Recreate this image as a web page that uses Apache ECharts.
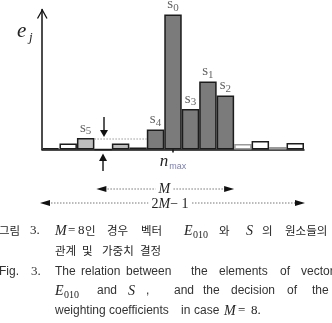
<!DOCTYPE html>
<html><head><meta charset="utf-8">
<script src="https://cdn.jsdelivr.net/npm/echarts@6/dist/echarts.min.js"></script>
<style>html,body{margin:0;padding:0;background:#fff}#c{width:332px;height:323px}</style>
</head><body><div id="c"></div>
<script>
// ---- data ----
const categories = ['', '', '', '', '', '', '', 'n_max', '', '', '', '', '', '', ''];
const values = [1.5, 6, 11.5, 0, 6, 2, 20, 135, 40.5, 68, 54, 5.5, 8.5, 2.5, 6.5];
const groups = ['out', 'out', 'side', 'out', 'side', 'out', 'main', 'main', 'main', 'main', 'main', 'faint', 'out', 'faint', 'out'];
const barLabels = ['', '', '5', '', '', '', '4', '0', '3', '1', '2', '', '', '', ''];
const M = 8;

const fills = { out: '#ffffff', faint: '#ffffff', side: '#bebebe', main: '#7b7b7b' };
const borders = { out: '#1c1c1c', faint: '#9a9a9a', side: '#1c1c1c', main: '#1c1c1c' };
const SERIF = '"Liberation Serif","DejaVu Serif",serif';
const SANS = '"Liberation Sans",Arial,sans-serif';
const KR = '"Noto Sans CJK KR",sans-serif';

const chart = echarts.init(document.getElementById('c'), null, { renderer: 'canvas' });
chart.setOption({
  animation: false,
  grid: { left: 42, right: 28, top: 9.5, bottom: 173.5, containLabel: false },
  xAxis: {
    type: 'category', data: categories,
    axisLine: { show: true, lineStyle: { color: '#111', width: 1.5 } },
    axisTick: { show: true, alignWithLabel: true, length: 3, interval: (i) => categories[i] !== '', lineStyle: { color: '#111', width: 1.5 } },
    axisLabel: {
      interval: 0, margin: 3,
      formatter: v => v ? '{n|n}{m|max}' : '',
      rich: {
        n: { fontFamily: SERIF, fontStyle: 'italic', fontSize: 17, color: '#222', padding: [0, 1, 0, 0] },
        m: { fontFamily: SANS, fontSize: 9, color: '#7d80b3', padding: [10, 0, 0, 0] }
      }
    },
    splitLine: { show: false }
  },
  yAxis: {
    type: 'value', min: 0, max: 140,
    axisLine: { show: true, lineStyle: { color: '#111', width: 1.5 } },
    axisTick: { show: false }, axisLabel: { show: false }, splitLine: { show: false }
  },
  series: [{
    type: 'bar', barCategoryGap: '0%', barGap: '0%',
    label: {
      position: 'top', distance: 1,
      rich: {
        s: { fontFamily: SERIF, fontSize: 15, color: '#666' },
        sub: { fontFamily: SERIF, fontSize: 11, color: '#666', padding: [7, 0, 0, 0] }
      }
    },
    data: values.map((v, i) => ({
      value: v,
      itemStyle: { color: fills[groups[i]], borderColor: borders[groups[i]], borderWidth: 1.5 },
      label: barLabels[i] ? { show: true, formatter: '{s|s}{sub|' + barLabels[i] + '}' } : { show: false }
    }))
  }]
});

// ---- annotations ----
const conv = (x, y) => chart.convertToPixel({ seriesIndex: 0 }, [x, y]);
const band = conv(1, 0)[0] - conv(0, 0)[0];
const leftEdge = i => conv(i, 0)[0] - band / 2;
const yS5 = conv(2, values[2])[1];
const gx = leftEdge(3) + band * 0.55;

function txt(x, y, text, font, fill, align) {
  return { type: 'text', x: x, y: y, silent: true, z: 100,
    style: { text: text, font: font, fill: fill || '#333', align: align || 'left', verticalAlign: 'middle' } };
}
function tri(pts, color) {
  return { type: 'polygon', silent: true, z: 100, shape: { points: pts }, style: { fill: color || '#111' } };
}
function hArrow(x1, x2, y) {
  return [
    { type: 'line', silent: true, z: 90, shape: { x1: x1 + 8, y1: y, x2: x2 - 8, y2: y },
      style: { stroke: '#777', lineWidth: 1, lineDash: [1.5, 1.5] } },
    tri([[x1, y], [x1 + 10, y - 3], [x1 + 10, y + 3]]),
    tri([[x2, y], [x2 - 10, y - 3], [x2 - 10, y + 3]])
  ];
}

const L = leftEdge(3), R = leftEdge(3 + M);
const L2 = leftEdge(0), R2 = leftEdge(2 * M - 1);
const midM = (L + R) / 2, mid2 = (L2 + R2) / 2;

const g = [];
// y-axis arrowhead and label
g.push({ type: 'polyline', silent: true, z: 100, shape: { points: [[37.5, 18.5], [42.3, 10], [47, 18.5]] }, style: { stroke: '#111', lineWidth: 1.3, fill: null } });
g.push(txt(17, 31, 'e', 'italic 21px ' + SERIF, '#222'));
g.push(txt(29, 38, 'j', 'italic 13px ' + SERIF, '#222'));
// dotted level line at s5
g.push({ type: 'line', silent: true, z: 90, shape: { x1: leftEdge(3), y1: yS5 + 1, x2: leftEdge(6), y2: yS5 + 1 }, style: { stroke: '#999', lineWidth: 1, lineDash: [1.5, 1.5] } });
// down arrow
g.push({ type: 'line', silent: true, z: 100, shape: { x1: gx, y1: 117, x2: gx, y2: 131 }, style: { stroke: '#111', lineWidth: 1.4 } });
g.push(tri([[gx - 4, 130], [gx + 4, 130], [gx, yS5 - 1]]));
// up arrow
g.push({ type: 'line', silent: true, z: 100, shape: { x1: gx - 1, y1: 159, x2: gx - 1, y2: 171 }, style: { stroke: '#111', lineWidth: 1.4 } });
g.push(tri([[gx - 5, 161], [gx + 3, 161], [gx - 1, 153.5]]));
// M and 2M-1 arrows
hArrow(L + 2, R, 189).forEach(e => g.push(e));
g.push({ type: 'text', x: midM, y: 189, z: 110, silent: true, style: { text: 'M', font: 'italic 14px ' + SERIF, fill: '#222', align: 'center', verticalAlign: 'middle', backgroundColor: '#fff', padding: [0, 3] } });
hArrow(L2 - 2, R2 + 1, 203).forEach(e => g.push(e));
g.push({ type: 'text', x: mid2 - 3, y: 204, z: 110, silent: true, style: {
  text: '{a|2}{b|M}{a|− 1}', align: 'center', verticalAlign: 'middle', backgroundColor: '#fff', padding: [0, 3],
  rich: { a: { font: '14px ' + SERIF, fill: '#222' }, b: { font: 'italic 14px ' + SERIF, fill: '#222' } } } });

// caption
const fK = '11.5px ' + KR, fE = '12px ' + SANS, fS = '13px ' + SERIF, fI = 'italic 14px ' + SERIF, fSub = '10px ' + SERIF;
const cK = '#1e1e1e', cE = '#333';
const y1 = 231, y2 = 251, y3 = 272, y4 = 291, y5 = 311;
g.push(txt(-1, y1, '그림', fK, cK));
g.push(txt(30, y1, '3.', fS, cK));
g.push(txt(55, y1, 'M', fI, cK));
g.push(txt(68, y1, '=', fS, cK));
g.push(txt(78, y1, '8', fS, cK));
g.push(txt(85, y1, '인', fK, cK));
g.push(txt(107, y1, '경우', fK, cK));
g.push(txt(141, y1, '벡터', fK, cK));
g.push(txt(184, y1, 'E', fI, cK));
g.push(txt(193, y1 + 4, '010', fSub, cK));
g.push(txt(219, y1, '와', fK, cK));
g.push(txt(246, y1, 'S', fI, cK));
g.push(txt(262, y1, '의', fK, cK));
g.push(txt(285, y1, '원소들의', fK, cK));
g.push(txt(55, y2, '관계', fK, cK));
g.push(txt(82, y2, '및', fK, cK));
g.push(txt(102, y2, '가중치', fK, cK));
g.push(txt(140, y2, '결정', fK, cK));

g.push(txt(-1, y3, 'Fig.', fE, cE));
g.push(txt(31, y3, '3.', fS, cE));
[['The', 55], ['relation', 81], ['between', 126], ['the', 191], ['elements', 219], ['of', 280], ['vector', 301]].forEach(w => g.push(txt(w[1], y3, w[0], fE, cE)));
g.push(txt(55, y4, 'E', fI, cK));
g.push(txt(64, y4 + 4, '010', fSub, cK));
g.push(txt(97, y4, 'and', fE, cE));
g.push(txt(128, y4, 'S', fI, cK));
g.push(txt(146, y4, ',', fE, cE));
[['and', 174], ['the', 203], ['decision', 231], ['of', 287], ['the', 312]].forEach(w => g.push(txt(w[1], y4, w[0], fE, cE)));
[['weighting', 55], ['coefficients', 109], ['in', 181], ['case', 194]].forEach(w => g.push(txt(w[1], y5, w[0], fE, cE)));
g.push(txt(224, y5, 'M', fI, cK));
g.push(txt(238, y5, '=', fS, cK));
g.push(txt(251, y5, '8.', fS, cK));

chart.setOption({ graphic: { elements: g } });
</script>
</body></html>
